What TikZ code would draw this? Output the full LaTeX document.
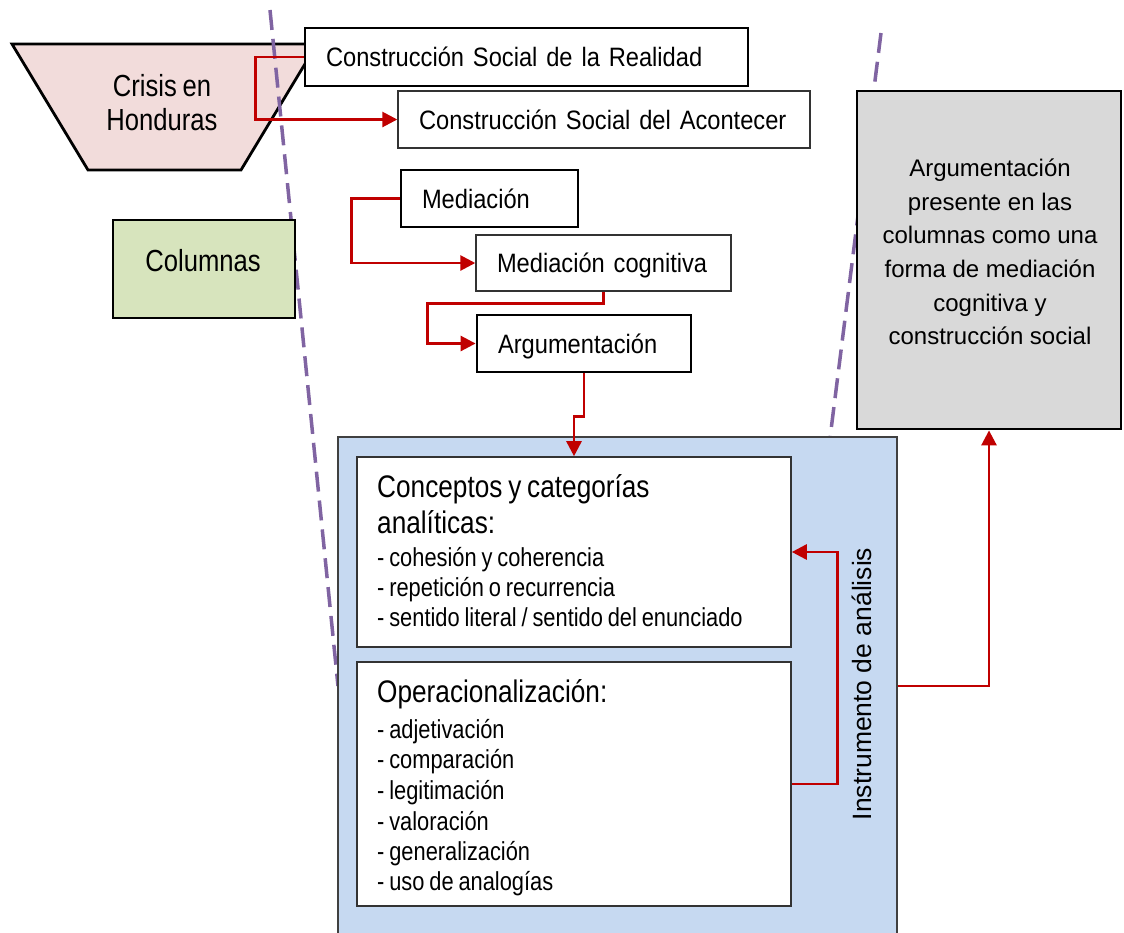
\documentclass[tikz,border=0pt]{standalone}
\usepackage{fontspec}
\setmainfont{Liberation Sans}
\newfontfamily\narrowA[FakeStretch=0.84,WordSpace=0.8]{Liberation Sans}
\newfontfamily\narrowB[FakeStretch=0.89,WordSpace=0.65]{Liberation Sans}
\usetikzlibrary{arrows.meta}
\definecolor{pinkF}{HTML}{F2DCDB}
\definecolor{greenF}{HTML}{D7E4BD}
\definecolor{blueF}{HTML}{C6D9F1}
\definecolor{grayF}{HTML}{D9D9D9}
\definecolor{redC}{HTML}{C00000}
\definecolor{purpleC}{HTML}{8064A2}
\newcommand\fBox{\narrowB\fontsize{26.6pt}{30pt}\selectfont}
\newcommand\fBig{\narrowA\fontsize{30.5pt}{34pt}\selectfont}
\newcommand\fHead{\narrowA\fontsize{31.2pt}{36pt}\selectfont}
\newcommand\fItem{\narrowA\fontsize{26pt}{30.5pt}\selectfont}
\newcommand\fGray{\fontsize{24pt}{33.6pt}\selectfont}
\newcommand\fInst{\fontsize{26.5pt}{30pt}\selectfont}
\begin{document}
\begin{tikzpicture}[x=1pt,y=-1pt,
  thickbox/.style={draw=black, line width=2.8pt, fill=white, inner sep=0pt},
  thinbox/.style={draw=black!80, line width=1.4pt, fill=white, inner sep=0pt},
  lbox/.style={inner xsep=21pt, inner ysep=0pt, text height=19.5pt, text depth=0.5pt, font=\fBox},
  link/.style={draw=redC, line width=2.7pt, -{Triangle[length=15pt,width=15pt]}},
  divider/.style={draw=purpleC, line width=3.5pt, dash pattern=on 20pt off 9pt},
  txt/.style={inner sep=0pt, anchor=base west}
]
\useasboundingbox (0,0) rectangle (1124,932);

% trapezoid
\draw[fill=pinkF, line width=2.8pt, line join=miter] (12,44) -- (317,44) -- (241,170) -- (88,170) -- cycle;
\node[align=center, font=\fBig, inner sep=0pt] (crisis) at (162,103) {Crisis en\\Honduras};

% dashed dividers
\draw[divider] (270,10) -- (338,686);
\draw[divider] (881,33) -- (830,438);

% left boxes
\node[thickbox, fill=greenF, minimum width=182pt, minimum height=98pt] (col) at (204,269) {};
\node[font=\fBig, inner sep=0pt] (coltxt) at (203,261) {Columnas};

\node[thickbox, lbox, minimum height=58pt, text width=401pt] (real) at (526.5,57) {\mbox{Construcción Social de la Realidad}};
\node[thinbox, lbox, minimum height=57pt, text width=370pt] (acon) at (604,119.5) {\mbox{Construcción Social del Acontecer}};
\node[thickbox, lbox, minimum height=57pt, text width=135pt] (med) at (489.5,198.5) {\mbox{Mediación}};
\node[thinbox, lbox, minimum height=56pt, text width=213pt] (medc) at (603.5,263) {\mbox{Mediación cognitiva}};
\node[thickbox, lbox, minimum height=57pt, text width=172pt] (arg) at (584,343.5) {\mbox{Argumentación}};

% gray box
\node[thickbox, fill=grayF, minimum width=264pt, minimum height=338pt] (gray) at (989,260) {};
\node[align=center, font=\fGray, inner sep=0pt] (graytxt) at (990,252) {Argumentación\\presente en las\\columnas como una\\forma de mediación\\cognitiva y\\construcción social};

% blue container
\node[draw=black!75, line width=1.4pt, fill=blueF, minimum width=559pt, minimum height=498pt, inner sep=0pt] (inst) at (617.5,686) {};
\node[font=\fInst, rotate=90, inner sep=0pt] (instlab) at (862,684) {Instrumento de análisis};

\node[draw=black!80, line width=1.6pt, fill=white, minimum width=434pt, minimum height=190pt, inner sep=0pt] (con) at (574,552) {};
\node[draw=black!80, line width=1.6pt, fill=white, minimum width=434pt, minimum height=244pt, inner sep=0pt] (op) at (574,784) {};

\node[txt, font=\fHead] (c1) at (377,497) {Conceptos y categorías};
\node[txt, font=\fHead] (c2) at (377,533) {analíticas:};
\node[txt, font=\fItem] (c3) at (377,566) {- cohesión y coherencia};
\node[txt, font=\fItem] (c4) at (377,596) {- repetición o recurrencia};
\node[txt, font=\fItem] (c5) at (377,626) {- sentido literal / sentido del enunciado};

\node[txt, font=\fHead] (o1) at (377,702) {Operacionalización:};
\node[txt, font=\fItem] (o2) at (377,738) {- adjetivación};
\node[txt, font=\fItem] (o3) at (377,768) {- comparación};
\node[txt, font=\fItem] (o4) at (377,799) {- legitimación};
\node[txt, font=\fItem] (o5) at (377,830) {- valoración};
\node[txt, font=\fItem] (o6) at (377,860) {- generalización};
\node[txt, font=\fItem] (o7) at (377,890) {- uso de analogías};

% connectors
\draw[link] (real.west) -- ++(-48,0) |- (acon.west);
\draw[link] (med.west) -- ++(-48,0) |- (medc.west);
\draw[link] (medc.south) -- ++(0,12) -| ([xshift=-48pt]arg.west) -- (arg.west);
\draw[link] (arg.south) -- ++(0,43) -| (con.north);
\draw[link] (op.east) -- ++(46,0) |- (con.east);
\draw[link] (inst.east) -| (gray.south);
\end{tikzpicture}
\end{document}
